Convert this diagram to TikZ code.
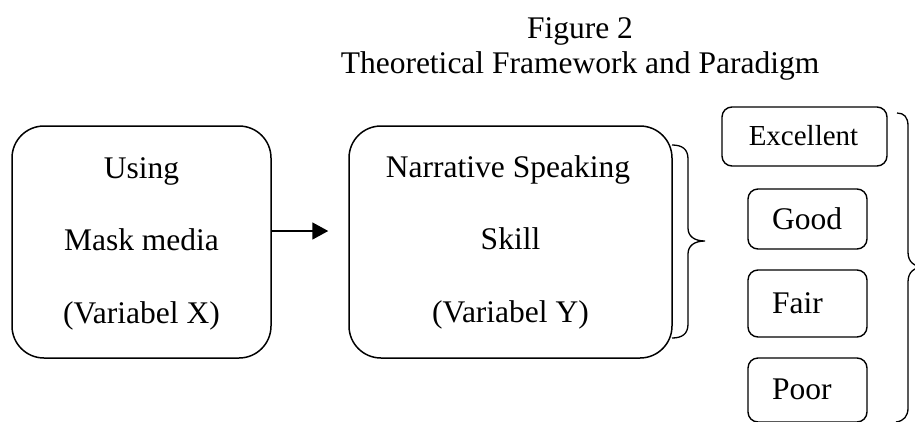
\documentclass[tikz,border=0pt]{standalone}
\usepackage{fontspec}
\setmainfont{Liberation Serif}
\usetikzlibrary{arrows.meta}
\begin{document}
\begin{tikzpicture}[x=1pt,y=-1pt,
  bigbox/.style={draw, line width=1.5pt, rounded corners=32pt, inner sep=0pt},
  smallbox/.style={draw, line width=1.4pt, rounded corners=10pt, inner sep=0pt},
  txt/.style={font=\fontsize{31.5}{36}\selectfont, inner sep=0pt, anchor=base},
  ltxt/.style={font=\fontsize{31.5}{36}\selectfont, inner sep=0pt, anchor=base west},
  brace/.style={draw, line width=1.3pt}]
\path[use as bounding box] (0,0) rectangle (915,421);
\begin{scope}
\clip (0,0) rectangle (915,421);
% title
\node[txt] (t1) at (580,38) {Figure 2};
\node[txt] (t2) at (580,73) {Theoretical Framework and Paradigm};
% left box
\node[bigbox, minimum width=259pt, minimum height=232pt] (lbox) at (141.5,242) {};
\node[txt] (l1) at (141.5,178) {Using};
\node[txt] (l2) at (141.5,250) {Mask media};
\node[txt] (l3) at (141.5,323) {(Variabel X)};
% middle box
\node[bigbox, minimum width=323pt, minimum height=232pt] (mbox) at (510.5,242) {};
\node[txt] (m1) at (508,177) {Narrative Speaking};
\node[txt] (m2) at (510.5,249) {Skill};
\node[txt] (m3) at (510.5,322) {(Variabel Y)};
% arrow
\draw[line width=1.8pt, -{Triangle[length=16pt,width=17pt]}, shorten >=20pt]
  ([yshift=11pt]lbox.east) -- ([yshift=11pt]mbox.west);
% small brace
\draw[brace] (672,145) .. controls (682,145) and (688,149) .. (688,159) -- (688,228)
  .. controls (688,236) and (694,241) .. (705,241)
  .. controls (694,241) and (688,246) .. (688,254) -- (688,324)
  .. controls (688,334) and (682,338) .. (672,338);
% category boxes
\node[smallbox, minimum width=165pt, minimum height=59pt] (ex) at (804.5,136.5) {};
\node[txt, font=\fontsize{29}{34}\selectfont] (ext) at (803.5,145) {Excellent};
\node[smallbox, minimum width=119pt, minimum height=60pt] (gd) at (807.5,219) {};
\node[ltxt] (gdt) at (772,229) {Good};
\node[smallbox, minimum width=119pt, minimum height=67pt] (fr) at (807.5,303.5) {};
\node[ltxt] (frt) at (772,313) {Fair};
\node[smallbox, minimum width=119pt, minimum height=64pt] (pr) at (807.5,390) {};
\node[ltxt] (prt) at (772,399) {Poor};
% big brace
\draw[brace] (897,113) .. controls (904,113) and (908,117) .. (908,126) -- (908,252)
  .. controls (908,262) and (914,267) .. (925,267)
  .. controls (914,267) and (908,272) .. (908,282) -- (908,408)
  .. controls (908,416) and (904,421) .. (896,422);
\end{scope}
\end{tikzpicture}
\end{document}
